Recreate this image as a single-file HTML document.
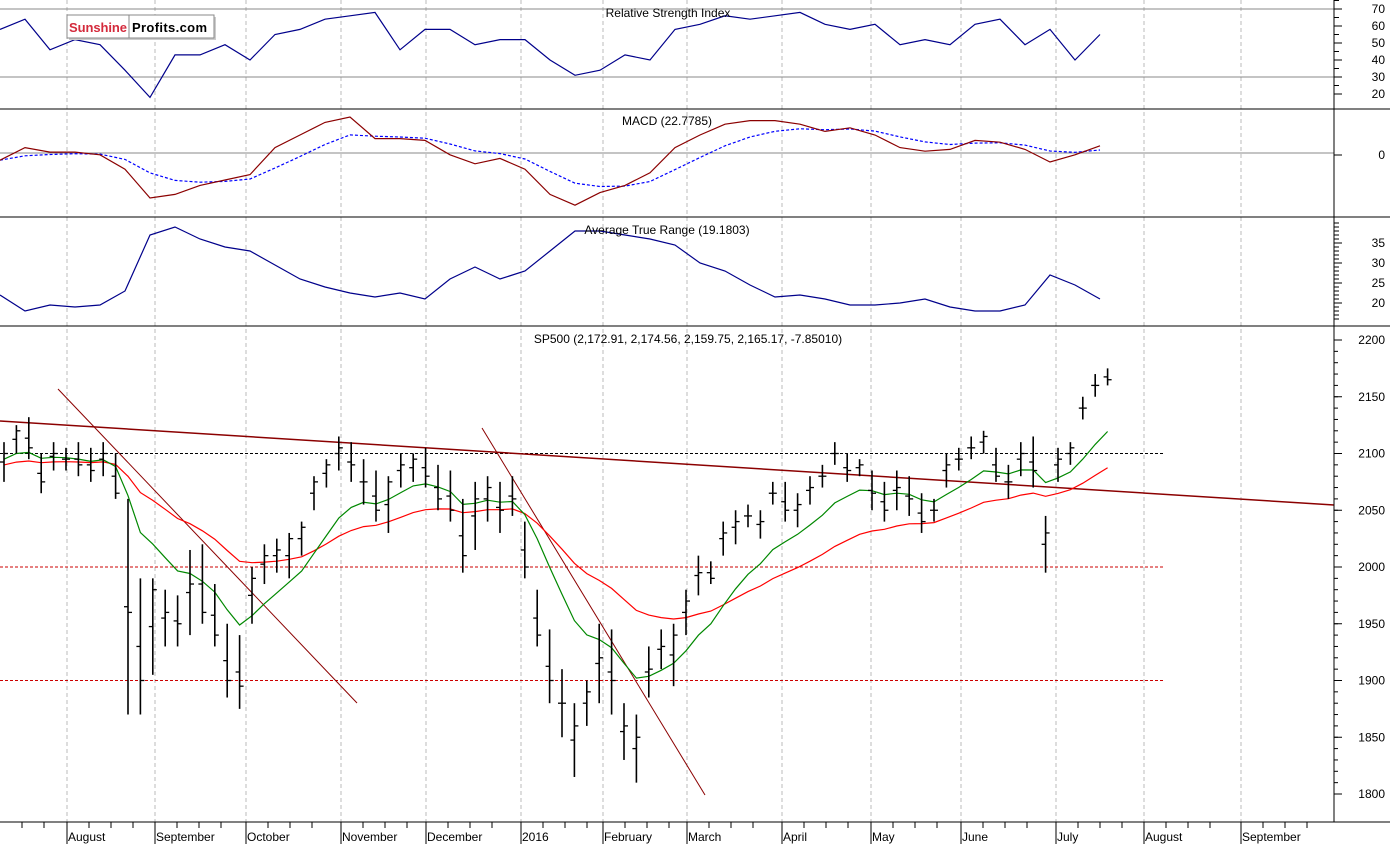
<!DOCTYPE html>
<html><head><meta charset="utf-8"><style>
body{margin:0;background:#fff}
svg{display:block;font-family:"Liberation Sans",Arial,sans-serif}
</style></head><body>
<svg id="c" width="1390" height="844" viewBox="0 0 1390 844">
<rect width="1390" height="844" fill="#fff"/>
<g id="grid"></g>
<g id="ind"></g>
<g id="price"></g>
<g id="axes"></g>
<g>
<rect x="69" y="17" width="147" height="23" fill="#ccc"/>
<rect x="67" y="15" width="147" height="23" fill="#fff" stroke="#888"/>
<line x1="129" y1="15" x2="129" y2="38" stroke="#888"/>
<text x="69" y="32" font-size="13" font-weight="bold" fill="#d42a3c" textLength="58">Sunshine</text>
<text x="132" y="32" font-size="13" font-weight="bold" fill="#000" textLength="75">Profits.com</text>
</g>
</svg>
<script>
const months=["August","September","October","November","December","2016","February","March","April","May","June","July","August","September"];
const monthX=[67,155,246,341,426,521,603,687,782,871,961,1056,1144,1241];
const rsiTicks=[70,60,50,40,30,20];
const atrTicks=[35,30,25,20];
const priceTicks=[2200,2150,2100,2050,2000,1950,1900,1850,1800];
const rsi=[58,64,46,52,49,34,18,43,43,49,40,55,58,64,66,68,46,58,58,49,52,52,40,31,34,43,40,58,61,66,64,66,68,61,58,61,49,52,49,61,64,49,58,40,55];
const macd=[-4,3,0.5,0.5,-1,-9,-25,-23,-18,-15,-12,3,10,17,20,8,8,7,-1,-6,-3,-9,-23,-29,-22,-18,-11,3,10,16,18,18,16,12,14,10,3,1,2,7,6,2,-5,-1,4];
const atr=[22,18,19.5,19,19.5,23,37,39,36,34,33,29.5,26,24,22.5,21.5,22.5,21,26,29,26,28,33,38,38,37,36,34.5,30,28,24.5,21.5,22,21,19.5,19.5,20,21,19,18,18,19.5,27,24.5,21];
const hi=[2110,2125,2132,2100,2110,2105,2110,2105,2110,2100,2060,1990,1990,1980,1975,2015,2020,1985,1950,1940,2000,2020,2025,2030,2040,2080,2095,2115,2110,2095,2085,2080,2100,2100,2105,2090,2085,2060,2075,2080,2075,2080,2040,1980,1945,1910,1880,1900,1950,1945,1880,1870,1930,1945,1950,1980,2010,2005,2040,2050,2055,2050,2075,2075,2065,2080,2090,2110,2100,2095,2085,2075,2085,2080,2065,2060,2100,2105,2115,2120,2105,2090,2110,2115,2045,2105,2110,2150,2170,2175];
const lo=[2075,2100,2095,2065,2085,2085,2080,2075,2080,2060,1870,1870,1905,1930,1930,1940,1950,1930,1885,1875,1950,1985,1995,1990,2010,2050,2070,2085,2075,2055,2040,2030,2070,2075,2070,2050,2040,1995,2015,2040,2030,2045,1990,1930,1880,1850,1815,1860,1880,1870,1830,1810,1885,1910,1895,1940,1975,1985,2010,2020,2035,2025,2055,2040,2035,2055,2070,2090,2075,2080,2050,2040,2050,2045,2030,2040,2070,2085,2095,2100,2075,2060,2080,2070,1995,2075,2090,2130,2150,2160];
const cl=[2100,2120,2105,2075,2100,2095,2090,2085,2100,2065,1960,1900,1980,1960,1950,1985,1960,1940,1900,1895,1990,2010,2015,2025,2035,2075,2090,2105,2090,2075,2050,2075,2090,2095,2080,2060,2050,2010,2060,2070,2050,2060,2000,1940,1900,1880,1860,1890,1920,1900,1860,1850,1910,1930,1940,1970,1995,1990,2030,2040,2045,2040,2065,2050,2055,2070,2080,2100,2085,2090,2065,2050,2070,2060,2040,2050,2090,2095,2105,2115,2080,2075,2100,2085,2030,2095,2105,2140,2160,2165];
const NS="http://www.w3.org/2000/svg";
function mk(p,t,a){const e=document.createElementNS(NS,t);for(const k in a)e.setAttribute(k,a[k]);p.appendChild(e);return e;}
const G=document.getElementById('grid'),I=document.getElementById('ind'),P=document.getElementById('price'),A=document.getElementById('axes');
const AX=1334;
const py=v=>340+(2200-v)*1.135;
const ry=v=>9+(70-v)*1.7;
const my=v=>153-v*1.8;
const ay=v=>303-(v-20)*4;
const bx=i=>4+i*12.4;
const ix=i=>i*25;
monthX.forEach((x,i)=>{const l=mk(G,'line',{x1:x,y1:0,x2:x,y2:822,stroke:'#bbb','stroke-dasharray':'4,3'});


const t=mk(A,'text',{x:x+1,y:841,'font-size':12,fill:'#000'});t.textContent=months[i];


mk(A,'line',{x1:x,y1:822,x2:x,y2:844,stroke:'#000'});
for(let k=1;k<4;k++){const xx=x+k*22;if(xx<AX)mk(A,'line',{x1:xx,y1:822,x2:xx,y2:828,stroke:'#000'});}
});
mk(A,'line',{x1:22,y1:822,x2:22,y2:828,stroke:'#000'});mk(A,'line',{x1:44,y1:822,x2:44,y2:828,stroke:'#000'});
[109,217,326,822].forEach(y=>mk(A,'line',{x1:0,y1:y,x2:1390,y2:y,stroke:'#000'}));
mk(A,'line',{x1:AX,y1:0,x2:AX,y2:822,stroke:'#000'});
[70,30].forEach(v=>mk(G,'line',{x1:0,y1:ry(v),x2:AX,y2:ry(v),stroke:'#888'}));
mk(G,'line',{x1:0,y1:my(0),x2:AX,y2:my(0),stroke:'#888'});
function lab(v,y,name){const t=mk(A,'text',{x:1385,y:y+4,'font-size':12,'text-anchor':'end'});t.textContent=v;


mk(A,'line',{x1:AX,y1:y,x2:AX+8,y2:y,stroke:'#000'});}
rsiTicks.forEach(v=>lab(v,ry(v),'rsi-tick-label'));
lab(0,my(0)+2,'macd-tick-label');
atrTicks.forEach(v=>lab(v,ay(v),'atr-tick-label'));
priceTicks.forEach(v=>lab(v,py(v),'price-tick-label'));
for(let v=25;v<=75;v+=5)mk(A,'line',{x1:AX,y1:ry(v),x2:AX+5,y2:ry(v),stroke:'#000'});
for(let v=16;v<=40;v++)mk(A,'line',{x1:AX,y1:ay(v),x2:AX+5,y2:ay(v),stroke:'#000'});
for(let v=1800;v<=2200;v+=10)mk(A,'line',{x1:AX,y1:py(v),x2:AX+4,y2:py(v),stroke:'#000'});
function title(txt,x,y,n){const t=mk(A,'text',{x:x,y:y,'font-size':12,'text-anchor':'middle'});t.textContent=txt;

}
title('Relative Strength Index',668,17,'rsi-title');
title('MACD (22.7785)',667,125,'macd-title');
title('Average True Range (19.1803)',667,234,'atr-title');
title('SP500 (2,172.91, 2,174.56, 2,159.75, 2,165.17, -7.85010)',688,343,'price-title');
function poly(arr,fy,stroke,name,dash){const pts=arr.map((v,i)=>ix(i)+','+fy(v).toFixed(1)).join(' ');
const p=mk(I,'polyline',{points:pts,fill:'none',stroke:stroke,'stroke-width':1.2});if(dash)p.setAttribute('stroke-dasharray',dash);

}
poly(rsi,ry,'#00008b','rsi-line');
const sig=[];macd.forEach((v,i)=>sig.push(i?sig[i-1]+0.35*(v-sig[i-1]):v));
poly(sig,my,'#0000ff','macd-signal-line','3,2');
poly(macd,my,'#8b0000','macd-line');
poly(atr,ay,'#00008b','atr-line');
function hl(v,c,n){const l=mk(P,'line',{x1:0,y1:py(v),x2:1163,y2:py(v),stroke:c,'stroke-dasharray':'3,2'});

}
hl(2100,'#000','level-2100');hl(2000,'#c00','level-2000');hl(1900,'#c00','level-1900');
function tl(x1,y1,x2,y2,n,w){const l=mk(P,'line',{x1,y1,x2,y2,stroke:'#8b0000','stroke-width':w});

}
tl(0,421,1334,505,'long-trend-line',1.5);tl(58,389,357,703,'downtrend-line-1',1);tl(482,428,705,795,'downtrend-line-2',1);
const g=[],r=[];cl.forEach((v,i)=>{g.push(i?g[i-1]+0.2*(v-g[i-1]):2095);r.push(i?r[i-1]+0.08*(v-r[i-1]):2090);});
function maLine(arr,c,n){const p=mk(P,'polyline',{points:arr.map((v,i)=>bx(i)+','+py(v).toFixed(1)).join(' '),fill:'none',stroke:c,'stroke-width':1.2});

}
maLine(r,'#f00','ma-long');maLine(g,'#080','ma-short');
cl.forEach((c,i)=>{const x=bx(i);const gg=mk(P,'g',{});


mk(gg,'line',{x1:x,y1:py(hi[i]),x2:x,y2:py(lo[i]),stroke:'#000','stroke-width':1.6});
mk(gg,'line',{x1:x,y1:py(c),x2:x+4,y2:py(c),stroke:'#000','stroke-width':1.3});
mk(gg,'line',{x1:x-4,y1:py((hi[i]+lo[i])/2),x2:x,y2:py((hi[i]+lo[i])/2),stroke:'#000','stroke-width':1.3});});
</script>
</body></html>
